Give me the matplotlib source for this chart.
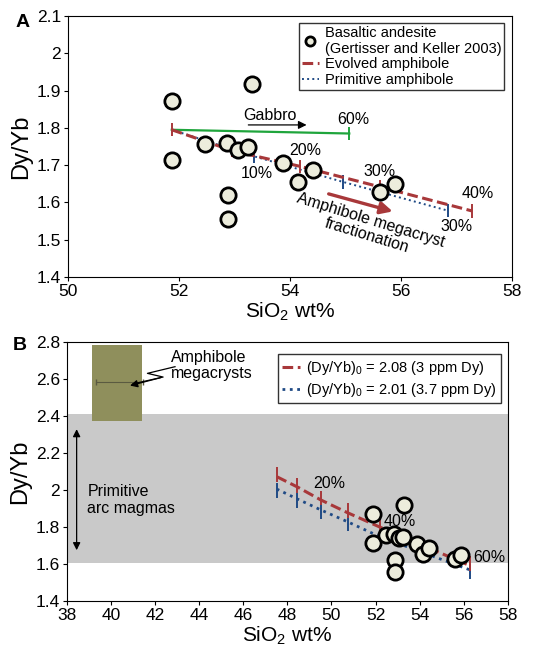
import numpy as np
import matplotlib
matplotlib.use("Agg")
from matplotlib import pyplot as plt

plt.rcParams['font.family'] = ['Liberation Sans', 'DejaVu Sans']
plt.rcParams['mathtext.fontset'] = 'custom'
plt.rcParams['mathtext.rm'] = 'Liberation Sans'
plt.rcParams['mathtext.it'] = 'Liberation Sans:italic'
plt.rcParams['mathtext.default'] = 'regular'

# basaltic andesite (Gertisser and Keller 2003)
sio2 = [51.87, 51.87, 52.47, 52.86, 53.07, 53.25, 53.31, 52.88, 52.89, 53.88, 54.14, 54.42, 55.62, 55.89]
dyyb = [1.872, 1.714, 1.758, 1.760, 1.742, 1.749, 1.917, 1.621, 1.556, 1.706, 1.655, 1.687, 1.629, 1.649]

# panel A models
evo_x = [51.87, 52.96, 54.18, 55.62, 57.29]
evo_y = [1.795, 1.739, 1.697, 1.642, 1.577]
prim_x = [51.87, 53.35, 54.96, 56.85]
prim_y = [1.795, 1.724, 1.655, 1.578]
gab_x = [51.87, 55.07]
gab_y = [1.795, 1.785]

# panel B models
b_red_x = [47.52, 48.46, 49.52, 50.73, 52.2, 56.29]
b_red_y = [2.073, 2.017, 1.947, 1.878, 1.800, 1.591]
b_blue_x = [47.52, 48.46, 49.52, 50.73, 52.2, 56.29]
b_blue_y = [2.006, 1.952, 1.893, 1.829, 1.748, 1.568]

RED = '#a8383a'
BLUE = '#1f4a85'
GREEN = '#1fa53c'
PT_FACE = '#ececdc'
TICK_FS = 12.5
ANN_FS = 11.5

fig = plt.figure(figsize=(5.38, 6.55), dpi=100)

# ---------------- panel A
ax = fig.add_axes([0.1264, 0.577, 0.825, 0.3985])
ax.plot(gab_x, gab_y, color=GREEN, lw=1.6, zorder=2)
ax.vlines(gab_x[-1], gab_y[-1] - 0.018, gab_y[-1] + 0.018, color=GREEN, lw=1.4)
ax.plot(prim_x, prim_y, color=BLUE, ls=':', lw=1.4, zorder=2, label='Primitive amphibole')
ax.vlines(prim_x[1:], np.array(prim_y[1:]) - 0.018, np.array(prim_y[1:]) + 0.018, color=BLUE, lw=1.4, zorder=2)
ax.plot(evo_x, evo_y, color=RED, ls=(0, (3.5, 1.5)), lw=2.2, zorder=3, label='Evolved amphibole')
ax.vlines(evo_x, np.array(evo_y) - 0.018, np.array(evo_y) + 0.018, color=RED, lw=1.4, zorder=3)
ax.plot(sio2, dyyb, 'o', ms=11, mfc=PT_FACE, mec='black', mew=2, ls='none', zorder=4,
        label='Basaltic andesite\n(Gertisser and Keller 2003)')

ax.text(53.64, 1.834, 'Gabbro', fontsize=ANN_FS, ha='center', va='center')
ax.annotate('', xy=(54.35, 1.808), xytext=(53.2, 1.808),
            arrowprops=dict(arrowstyle='-|>', color='black', lw=0.9, mutation_scale=12))
ax.text(55.14, 1.823, '60%', fontsize=ANN_FS, ha='center', va='center')
ax.text(53.40, 1.678, '10%', fontsize=ANN_FS, ha='center', va='center')
ax.text(54.27, 1.740, '20%', fontsize=ANN_FS, ha='center', va='center')
ax.text(55.62, 1.682, '30%', fontsize=ANN_FS, ha='center', va='center')
ax.text(57.39, 1.624, '40%', fontsize=ANN_FS, ha='center', va='center')
ax.text(57.0, 1.535, '30%', fontsize=ANN_FS, ha='center', va='center')
ax.annotate('', xy=(55.9, 1.574), xytext=(54.65, 1.625),
            arrowprops=dict(arrowstyle='-|>', color=RED, lw=2.4, mutation_scale=18))
ax.text(55.42, 1.532, 'Amphibole megacryst\nfractionation', fontsize=ANN_FS, ha='center', va='center',
        rotation=-17, linespacing=1.0)

ax.set_xlim(50, 58)
ax.set_ylim(1.4, 2.1)
ax.set_xticks([50, 52, 54, 56, 58])
ax.set_yticks([1.4, 1.5, 1.6, 1.7, 1.8, 1.9, 2.0, 2.1])
ax.set_yticklabels(['1.4', '1.5', '1.6', '1.7', '1.8', '1.9', '2', '2.1'])
ax.tick_params(labelsize=TICK_FS, length=3, pad=2)
ax.set_xlabel('SiO$_2$ wt%', fontsize=15, labelpad=1)
ax.set_ylabel('Dy/Yb', fontsize=17, labelpad=3)
h, l = ax.get_legend_handles_labels()
leg = ax.legend([h[2], h[1], h[0]], [l[2], l[1], l[0]], loc='upper right', fontsize=10.5,
                frameon=True, fancybox=False, edgecolor='black', handlelength=1.2,
                handletextpad=0.4, borderpad=0.2, labelspacing=0.1, markerscale=0.6,
                borderaxespad=0.2, bbox_to_anchor=(0.99, 0.985))
leg.get_frame().set_linewidth(1.0)
fig.text(0.042, 0.965, 'A', fontsize=14, fontweight='bold', ha='center', va='center')

# ---------------- panel B
bx = fig.add_axes([0.124, 0.0824, 0.82, 0.395])
bx.axhspan(1.607, 2.412, color='#c9c9c9', zorder=0, lw=0)
bx.fill_between([39.16, 41.41], 2.376, 2.785, color='#8f8f5c', zorder=1, lw=0)
bx.errorbar(40.4, 2.584, xerr=1.07, fmt='none', ecolor='#5a5a40', elinewidth=0.8, capsize=2, zorder=2)
zx = [42.91, 41.66, 42.37, 41.0]
zy = [2.668, 2.632, 2.612, 2.575]
bx.plot(zx, zy, color='black', lw=0.9, zorder=3)
bx.annotate('', xy=(40.75, 2.562), xytext=(zx[-2], zy[-2]),
            arrowprops=dict(arrowstyle='-|>', color='black', lw=0.9, mutation_scale=11))
bx.text(42.73, 2.673, 'Amphibole\nmegacrysts', fontsize=ANN_FS, ha='left', va='center', linespacing=1.05)
bx.annotate('', xy=(38.45, 1.66), xytext=(38.45, 2.345),
            arrowprops=dict(arrowstyle='<|-|>', color='black', lw=0.9, mutation_scale=11))
bx.text(38.94, 1.947, 'Primitive\narc magmas', fontsize=ANN_FS, ha='left', va='center', linespacing=1.2)

bx.plot(b_blue_x, b_blue_y, color=BLUE, ls=':', lw=2.0, zorder=2,
        label='(Dy/Yb)$_0$ = 2.01 (3.7 ppm Dy)')
bx.vlines(b_blue_x, np.array(b_blue_y) - 0.05, np.array(b_blue_y) + 0.03, color=BLUE, lw=1.4, zorder=2)
bx.plot(b_red_x, b_red_y, color=RED, ls=(0, (3.5, 1.5)), lw=2.2, zorder=3,
        label='(Dy/Yb)$_0$ = 2.08 (3 ppm Dy)')
bx.vlines(b_red_x, np.array(b_red_y) - 0.03, np.array(b_red_y) + 0.05, color=RED, lw=1.4, zorder=3)
bx.plot(sio2, dyyb, 'o', ms=11, mfc=PT_FACE, mec='black', mew=2, ls='none', zorder=4)
bx.text(49.9, 2.037, '20%', fontsize=ANN_FS, ha='center', va='center')
bx.text(53.09, 1.829, '40%', fontsize=ANN_FS, ha='center', va='center')
bx.text(57.17, 1.636, '60%', fontsize=ANN_FS, ha='center', va='center')

bx.set_xlim(38, 58)
bx.set_ylim(1.4, 2.8)
bx.set_xticks(np.arange(38, 59, 2))
bx.set_yticks([1.4, 1.6, 1.8, 2.0, 2.2, 2.4, 2.6, 2.8])
bx.set_yticklabels(['1.4', '1.6', '1.8', '2', '2.2', '2.4', '2.6', '2.8'])
bx.tick_params(labelsize=TICK_FS, length=3, pad=2)
bx.set_xlabel('SiO$_2$ wt%', fontsize=15, labelpad=1)
bx.set_ylabel('Dy/Yb', fontsize=17, labelpad=3)
h, l = bx.get_legend_handles_labels()
leg = bx.legend([h[1], h[0]], [l[1], l[0]], loc='upper right', fontsize=10.5,
                frameon=True, fancybox=False, edgecolor='black', handlelength=1.2,
                handletextpad=0.4, borderpad=0.3, labelspacing=0.3,
                borderaxespad=0.2, bbox_to_anchor=(0.99, 0.965))
leg.get_frame().set_linewidth(1.0)
fig.text(0.036, 0.473, 'B', fontsize=14, fontweight='bold', ha='center', va='center')

fig.savefig('out.png', dpi=100)
